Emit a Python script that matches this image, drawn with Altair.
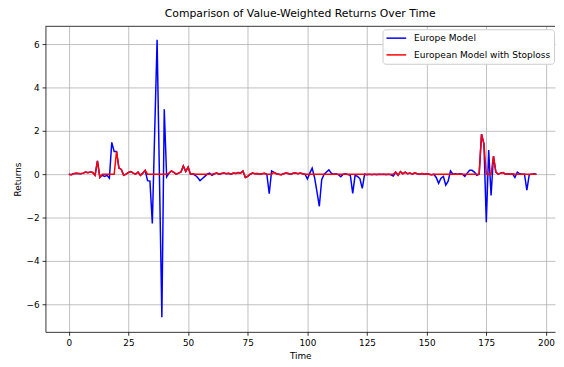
import altair as alt
import pandas as pd

time = list(range(197))

europe_model = [
    0.00, -0.02, 0.02, 0.04, 0.03, 0.02, 0.05, 0.10, 0.07, 0.10,
    0.08, -0.05, 0.62, -0.15, -0.05, -0.10, -0.05, -0.18, 1.47, 1.05,
    1.05, 0.28, 0.22, -0.05, 0.00, 0.08, 0.12, 0.05, 0.00, 0.10,
    -0.05, 0.05, 0.18, -0.30, -0.32, -2.27, 2.00, 6.20, -0.20, -6.60,
    3.00, -0.12, 0.05, 0.15, 0.08, 0.00, 0.05, 0.10, 0.38, 0.12,
    0.33, 0.00, 0.02, -0.05, -0.15, -0.30, -0.20, -0.10, 0.00, 0.05,
    -0.05, 0.02, 0.05, 0.00, 0.03, 0.06, 0.02, 0.04, 0.00, 0.05,
    0.03, 0.08, 0.05, 0.15, -0.15, -0.10, 0.00, 0.05, 0.02, 0.03,
    0.00, 0.02, 0.04, 0.00, -0.90, 0.15, 0.08, 0.02, 0.00, -0.02,
    0.02, 0.05, 0.03, 0.00, 0.04, 0.06, 0.02, 0.05, 0.02, 0.00,
    -0.22, 0.05, 0.28, -0.15, -0.80, -1.48, -0.25, 0.00, 0.10, 0.20,
    0.05, 0.00, 0.02, -0.02, -0.12, 0.00, 0.02, -0.02, -0.05, -0.88,
    -0.05, -0.10, -0.20, -0.65, 0.00, -0.02, 0.00, -0.03, 0.00, -0.02,
    0.00, -0.01, 0.00, -0.02, 0.00, -0.03, -0.08, 0.10, -0.05, 0.12,
    0.02, 0.10, 0.02, 0.05, 0.00, 0.06, 0.02, 0.00, 0.03, 0.00,
    0.02, 0.00, -0.02, 0.00, -0.15, -0.42, -0.18, -0.10, -0.50, -0.32,
    0.15, 0.00, 0.02, 0.00, 0.02, 0.00, -0.10, 0.05, 0.18, 0.18,
    0.10, -0.05, 0.00, 1.85, 1.40, -2.21, 1.12, -0.98, 0.83, 0.10,
    0.00, 0.05, 0.08, 0.00, 0.02, 0.00, 0.02, -0.15, 0.10, 0.02,
    0.00, 0.00, -0.73, -0.02, 0.00, 0.02, 0.00,
]

stoploss_model = [
    0.00, -0.02, 0.02, 0.04, 0.03, 0.02, 0.05, 0.10, 0.07, 0.10,
    0.08, -0.05, 0.62, -0.15, 0.00, 0.00, 0.00, 0.00, 0.00, 0.00,
    1.05, 0.28, 0.22, -0.05, 0.00, 0.08, 0.12, 0.05, 0.00, 0.10,
    -0.05, 0.05, 0.18, 0.00, 0.00, 0.00, 0.00, 0.00, 0.00, 0.00,
    0.00, 0.00, 0.05, 0.15, 0.08, 0.00, 0.05, 0.10, 0.38, 0.12,
    0.33, 0.00, 0.02, 0.00, 0.00, 0.00, 0.00, 0.00, 0.00, 0.00,
    0.00, 0.02, 0.05, 0.00, 0.03, 0.06, 0.02, 0.04, 0.00, 0.05,
    0.03, 0.08, 0.05, 0.15, -0.15, -0.10, 0.00, 0.05, 0.02, 0.03,
    0.00, 0.02, 0.04, 0.00, 0.00, 0.00, 0.08, 0.02, 0.00, -0.02,
    0.02, 0.05, 0.03, 0.00, 0.04, 0.06, 0.02, 0.05, 0.02, 0.00,
    0.00, 0.00, 0.00, 0.00, 0.00, 0.00, 0.00, 0.00, 0.00, 0.00,
    0.00, 0.00, 0.00, 0.00, 0.00, 0.00, 0.00, 0.00, 0.00, 0.00,
    0.00, 0.00, 0.00, 0.00, 0.00, 0.00, 0.00, 0.00, 0.00, 0.00,
    0.00, 0.00, 0.00, 0.00, 0.00, 0.00, 0.00, 0.10, -0.05, 0.12,
    0.02, 0.10, 0.02, 0.05, 0.00, 0.06, 0.02, 0.00, 0.03, 0.00,
    0.02, 0.00, -0.02, 0.00, 0.00, 0.00, 0.00, 0.00, 0.00, 0.00,
    0.00, 0.00, 0.00, 0.00, 0.00, 0.00, 0.00, 0.00, 0.00, 0.00,
    0.00, 0.00, 0.00, 1.85, 1.40, 0.00, 0.00, 0.00, 0.83, 0.10,
    0.00, 0.05, 0.08, 0.00, 0.02, 0.00, 0.02, 0.00, 0.00, 0.00,
    0.00, 0.00, 0.00, 0.00, 0.00, 0.00, 0.00,
]

series_names = ["Europe Model", "European Model with Stoploss"]
series_colors = ["#0000ff", "#ff0000"]
x_ticks = [0, 25, 50, 75, 100, 125, 150, 175, 200]
y_ticks = [-6, -4, -2, 0, 2, 4, 6]

df_blue = pd.DataFrame({"Time": time, "Returns": europe_model, "Series": series_names[0]})
df_red = pd.DataFrame({"Time": time, "Returns": stoploss_model, "Series": series_names[1]})

FONT = "DejaVu Sans"
W, H = 517, 310

x_enc = alt.X(
    "Time:Q",
    scale=alt.Scale(domain=[-9.8, 203.8], nice=False, zero=False),
    axis=alt.Axis(values=x_ticks, title="Time", format="d"),
)
y_enc = alt.Y(
    "Returns:Q",
    scale=alt.Scale(domain=[-7.27, 6.82], nice=False, zero=False),
    axis=alt.Axis(values=y_ticks, title="Returns", format="d"),
)
color_enc = alt.Color(
    "Series:N",
    scale=alt.Scale(domain=series_names, range=series_colors),
    legend=alt.Legend(
        title=None,
        orient="none",
        legendX=342,
        legendY=3,
        symbolType="M-1,0H3",
        symbolSize=100,
        symbolStrokeWidth=1.5,
        labelFontSize=9.2,
        labelFont=FONT,
        labelColor="black",
        fillColor="white",
        strokeColor="#cccccc",
        cornerRadius=3,
        padding=3,
        labelOffset=17,
        rowPadding=5,
    ),
)

blue = alt.Chart(df_blue).mark_line(strokeWidth=1.5, clip=True).encode(
    x=x_enc, y=y_enc, color=color_enc
)
red = alt.Chart(df_red).mark_line(strokeWidth=1.5, clip=True).encode(
    x=x_enc, y=y_enc, color=color_enc
)
top_border = alt.Chart(pd.DataFrame({"edge": [0]})).mark_rule(
    color="black", strokeWidth=0.8
).encode(x=alt.value(0), x2=alt.value(W), y=alt.value(0))

chart = (
    alt.layer(blue, red, top_border)
    .properties(
        width=W,
        height=H,
        title=alt.TitleParams(
            "Comparison of Value-Weighted Returns Over Time",
            font=FONT, fontSize=11, fontWeight="normal", color="black",
            anchor="middle", offset=7,
        ),
        autosize=alt.AutoSizeParams(type="none"),
        padding={"left": 38, "top": 16, "right": 1, "bottom": 28},
        background="white",
    )
    .configure_view(stroke=None)
    .configure_axis(
        labelFont=FONT, titleFont=FONT, labelFontSize=9, titleFontSize=9,
        labelColor="black", titleColor="black", titleFontWeight="normal",
        domainColor="black", domainWidth=0.8, tickColor="black", tickWidth=0.8,
        tickSize=3.5, labelPadding=3, grid=True, gridColor="#b0b0b0",
        gridWidth=0.8, gridOpacity=1,
    )
    .configure_axisX(titlePadding=5)
    .configure_axisY(titlePadding=4)
)

chart.save("out.html", embed_options={"renderer": "svg", "actions": False})
